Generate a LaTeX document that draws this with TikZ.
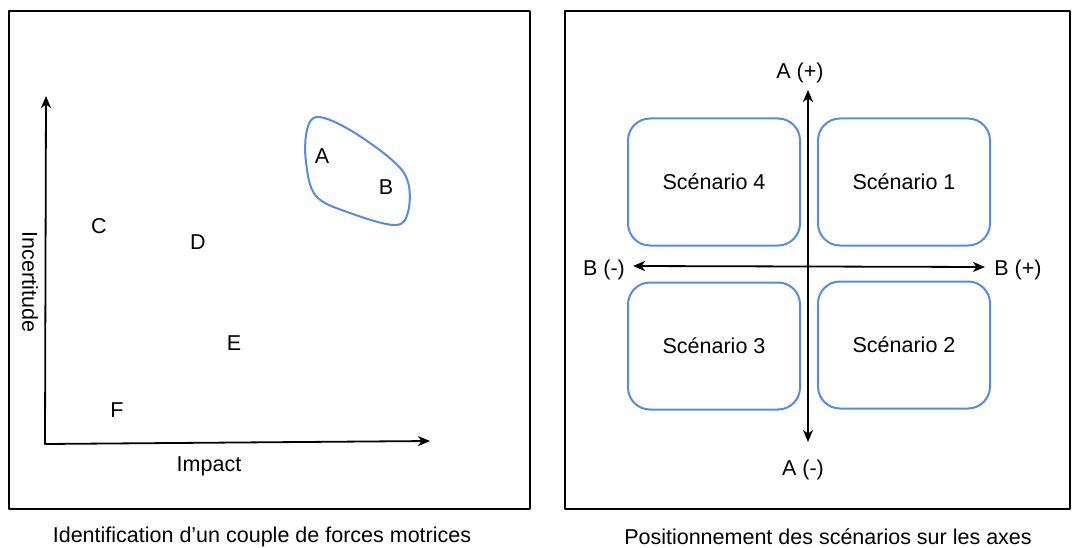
\documentclass[tikz,border=0pt]{standalone}
\usepackage{fontspec}
\setmainfont{Liberation Sans}
\usetikzlibrary{arrows.meta}
\definecolor{bleu}{RGB}{84,140,228}
\tikzset{
  cadre/.style={draw=black, line width=2pt},
  axe/.style={draw=black, line width=1.8pt, -{Stealth[length=12pt,width=10pt,inset=3.5pt]}},
  axes2/.style={draw=black, line width=1.8pt, {Stealth[length=12pt,width=10pt,inset=3.5pt]}-{Stealth[length=12pt,width=10pt,inset=3.5pt]}},
  lettre/.style={font=\fontsize{21.5}{25}\selectfont},
  scenario/.style={draw=bleu, line width=2pt, rounded corners=22pt, minimum width=172pt, minimum height=127pt, font=\fontsize{21.5}{25}\selectfont},
  legende/.style={font=\fontsize{21.5}{25}\selectfont}
}
\begin{document}
\begin{tikzpicture}[x=1pt, y=-1pt, line cap=round, line join=round]
	\useasboundingbox (0,0) rectangle (1075,548);
	
	% Les deux cadres
	\draw[cadre] (9,11) rectangle (530,509);
	\draw[cadre] (565,11) rectangle (1070,509);
	
	% Axes du premier cadre
	\coordinate (O) at (45,444);
	\coordinate (Ix) at (430,441);
	\coordinate (Iy) at (46,96);
	\draw[axe] (O) -- (Ix);
	\draw[axe] (O) -- (Iy);
	\node[legende] (impact) at (209,466) {Impact};
	\node[legende, rotate=-90] (incert) at (30,282) {Incertitude};
	
	% Les forces motrices
	\node[lettre] (C) at (99,226) {C};
	\node[lettre] (D) at (198,242) {D};
	\node[lettre] (E) at (234,343) {E};
	\node[lettre] (F) at (117,410) {F};
	\node[lettre] (A) at (322,156) {A};
	\node[lettre] (B) at (386,187) {B};
	
	% Contour du couple A, B
	\draw[bleu, line width=2pt] plot[smooth cycle, tension=0.6] coordinates {
		(318,117) (350,130) (392,160) (408,182) (408,212) (395,225)
		(350,213) (316,196) (306,162) (307,130)};
	
	% Axes du second cadre
	\coordinate (Ah) at (808,90);
	\coordinate (Ab) at (808,442);
	\coordinate (Bg) at (633,266);
	\coordinate (Bd) at (985,267);
	\draw[axes2] (Ab) -- (Ah);
	\draw[axes2] (Bg) -- (Bd);
	\node[legende] (Aplus) at (800,73) {A (+)};
	\node[legende] (Amoins) at (803,470) {A (-)};
	\node[legende] (Bmoins) at (604,270) {B (-)};
	\node[legende] (Bplus) at (1018,270) {B (+)};
	
	% Les quatre scénarios
	\node[scenario] (s4) at (714,182) {Scénario 4};
	\node[scenario] (s1) at (904,182) {Scénario 1};
	\node[scenario] (s3) at (714,346) {Scénario 3};
	\node[scenario] (s2) at (904,345) {Scénario 2};
	
	% Légendes
	\node[legende] (leg1) at (262,537) {Identification d’un couple de forces motrices};
	\node[legende] (leg2) at (828,537) {Positionnement des scénarios sur les axes};
\end{tikzpicture}
\end{document}
